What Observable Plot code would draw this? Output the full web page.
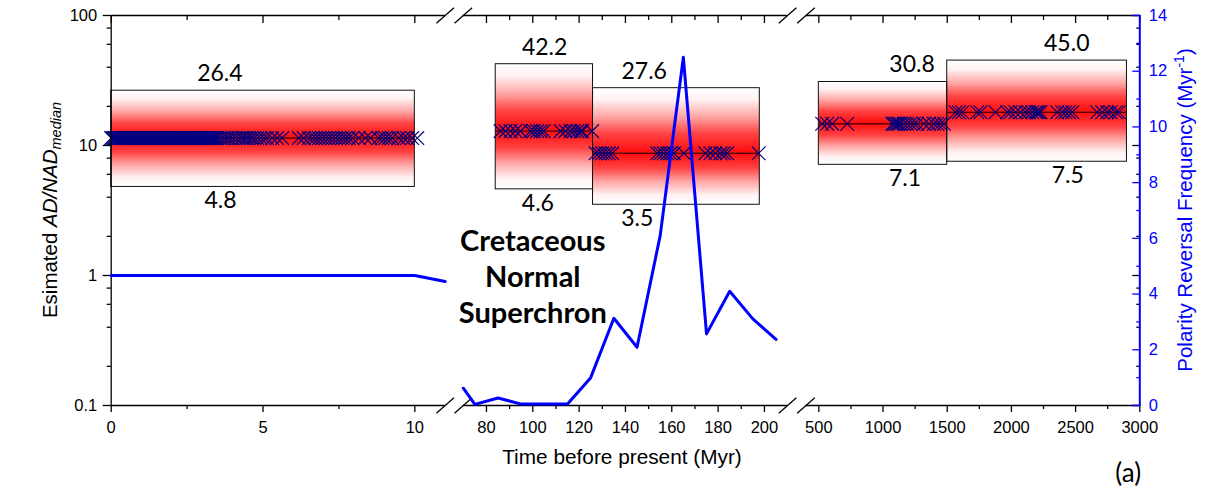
<!DOCTYPE html>
<html><head><meta charset="utf-8">
<script src="https://cdn.jsdelivr.net/npm/d3@7"></script>
<script src="https://cdn.jsdelivr.net/npm/@observablehq/plot@0.6"></script>
<style>
html,body{margin:0;padding:0;background:#fff;}
#chart{position:relative;width:1207px;height:498px;}
#chart svg{position:absolute;left:0;top:0;}
</style></head><body><div id="chart"></div>
<script>
// ---------- data ----------
const segStart = [0, 70, 400];
const segEnd = [11, 210, 3000];
const xMajorTicks = [0, 5, 10, 80, 100, 120, 140, 160, 180, 200, 500, 1000, 1500, 2000, 2500, 3000];
const xMinorTicks = [2.5, 7.5, 90, 110, 130, 150, 170, 190, 750, 1250, 1750, 2250, 2750];
const yMajorTicks = [0.1, 1, 10, 100];
const yMinorTicks = [0.2, 0.4, 0.6, 0.8, 2, 4, 6, 8, 20, 40, 60, 80];
const rightMajorTicks = [0, 2, 4, 6, 8, 10, 12, 14];
const rightMinorTicks = [1, 3, 5, 7, 9, 11, 13];

const boxStart = [0, 84, 126, 500, 1500];
const boxEnd = [10, 126, 198, 1500, 2900];
const boxLower = [4.8, 4.6, 3.5, 7.1, 7.5];
const boxUpper = [26.4, 42.2, 27.6, 30.8, 45.0];
const boxMedian = [11.4, 12.9, 8.7, 14.7, 18.0];
const labelTopX = [3.58, 105.1, 148.1, 1226, 2431];
const labelBottomX = [3.6, 102.2, 145.1, 1171, 2439];

const crosses1 = [0, 0.04, 0.08, 0.12, 0.16, 0.2, 0.24, 0.28, 0.32, 0.36, 0.4, 0.44, 0.48, 0.52, 0.56, 0.6, 0.64, 0.68, 0.72, 0.76, 0.8, 0.84, 0.88, 0.92, 0.96, 1.0, 1.04, 1.08, 1.12, 1.16, 1.2, 1.24, 1.28, 1.32, 1.36, 1.4, 1.44, 1.48, 1.52, 1.56, 1.6, 1.64, 1.68, 1.72, 1.76, 1.8, 1.84, 1.88, 1.92, 1.96, 2.0, 2.04, 2.08, 2.12, 2.16, 2.2, 2.24, 2.28, 2.32, 2.36, 2.4, 2.44, 2.48, 2.52, 2.56, 2.6, 2.64, 2.68, 2.72, 2.76, 2.8, 2.84, 2.88, 2.92, 2.96, 3.0, 3.04, 3.08, 3.12, 3.16, 3.2, 3.24, 3.28, 3.32, 3.36, 3.4, 3.44, 3.48, 3.56, 3.65, 3.74, 3.82, 3.9, 4.0, 4.1, 4.2, 4.3, 4.37, 4.45, 4.53, 4.62, 4.7, 4.81, 4.92, 5.03, 5.13, 5.3, 5.46, 5.63, 6.18, 6.34, 6.51, 6.62, 6.73, 6.84, 6.95, 7.06, 7.17, 7.28, 7.39, 7.5, 7.61, 7.71, 7.82, 7.94, 8.15, 8.37, 8.54, 8.81, 8.92, 9.03, 9.14, 9.25, 9.47, 9.63, 9.75, 9.91, 10.08];
const crosses2 = [86.1, 88.2, 90.4, 92.5, 94.7, 99.0, 100.4, 101.9, 103.3, 104.7, 112.0, 114.1, 116.3, 117.7, 119.2, 120.6, 121.3, 125.6];
const crosses3 = [127.1, 128.5, 130.0, 131.4, 132.8, 134.3, 153.7, 155.1, 156.5, 158.0, 159.4, 160.9, 165.2, 174.5, 176.7, 178.8, 181.0, 182.4, 183.9, 197.5];
const crosses4 = [526, 565, 604, 721, 1072, 1084, 1097, 1111, 1123, 1136, 1162, 1188, 1214, 1240, 1266, 1318, 1357, 1396, 1422, 1448, 1474];
const crosses5 = [1565, 1590, 1617, 1734, 1759, 1876, 1967, 1993, 2032, 2071, 2110, 2136, 2162, 2188, 2201, 2214, 2227, 2357, 2396, 2421, 2447, 2474, 2668, 2707, 2746, 2772, 2813, 2836];

const rateTime = [0, 10, 11, 70, 75, 85, 95, 105, 115, 125, 135, 145, 155, 165, 175, 185, 195, 205];
const rateValue = [4.67, 4.67, 4.45, 0.62, 0.04, 0.27, 0.05, 0.05, 0.05, 1.0, 3.13, 2.09, 6.1, 12.5, 2.57, 4.1, 3.11, 2.37];

const cnsLabel = {text: "Cretaceous\nNormal\nSuperchron", x: 100, y: 1};

// ---------- tables built from arrays ----------
const boxes = boxStart.map((s, i) => ({start: s, end: boxEnd[i], lower: boxLower[i], upper: boxUpper[i], median: boxMedian[i], topX: labelTopX[i], botX: labelBottomX[i]}));
const crossSets = [crosses1, crosses2, crosses3, crosses4, crosses5];
const crosses = crossSets.flatMap((arr, i) => arr.map(t => ({t, m: boxMedian[i]})));
const rate = rateTime.map((t, i) => ({t, v: rateValue[i]}));

// ---------- layout ----------
const W = 1207, H = 498;
const mT = 15, mB = 93;
const segPx = [[110.7, 444.7], [462.8, 787.1], [805.5, 1139.3]];
const axisFont = "Liberation Sans, Arial, sans-serif";
const labelFont = "Lato, Open Sans, sans-serif";
const tickFS = 16.5;
const BLUE = "#0000ff";
const yBottom = 0.1, yTop = 100;
const nSeg = segStart.length;

const slash = {draw(ctx) { ctx.moveTo(-8.8, 7.7); ctx.lineTo(8.8, -7.7); }};

function gradientDefs() {
  const defs = d3.create("svg:defs");
  const stops = [[0, "#ffffff"], [0.18, "#fff2f2"], [0.45, "#ffa4a4"], [0.7, "#ff4444"], [1, "#ff0a0a"]];
  const up = defs.append("linearGradient").attr("id", "gradUp").attr("x1", 0).attr("y1", 0).attr("x2", 0).attr("y2", 1);
  stops.forEach(([o, c]) => up.append("stop").attr("offset", o).attr("stop-color", c));
  const down = defs.append("linearGradient").attr("id", "gradDown").attr("x1", 0).attr("y1", 1).attr("x2", 0).attr("y2", 0);
  stops.forEach(([o, c]) => down.append("stop").attr("offset", o).attr("stop-color", c));
  return defs.node();
}

function frameOpts(i) {
  return {
    width: W, height: H,
    marginLeft: segPx[i][0], marginRight: W - segPx[i][1], marginTop: mT, marginBottom: mB,
    x: {domain: [segStart[i], segEnd[i]]},
    style: {fontFamily: axisFont, fontSize: tickFS + "px", background: "transparent", color: "black", overflow: "visible", pointerEvents: "none"}
  };
}

function inSeg(i) { return v => v >= segStart[i] && v <= segEnd[i]; }

function logPlot(i) {
  const within = inSeg(i);
  const bx = boxes.filter(b => within(b.start) && within(b.end));
  const cr = crosses.filter(c => within(c.t));
  const majors = xMajorTicks.filter(within);
  const minors = xMinorTicks.filter(within);
  const brk = [];
  if (i > 0) brk.push(segStart[i]);
  if (i < nSeg - 1) brk.push(segEnd[i]);
  const brkMarks = brk.flatMap(b => [{x: b, y: yBottom}, {x: b, y: yTop}]);
  const cns = [cnsLabel].filter(d => within(d.x));
  const marks = [
    i === 0 ? gradientDefs : null,
    Plot.rect(bx, {x1: "start", x2: "end", y1: "median", y2: "upper", fill: "url(#gradUp)"}),
    Plot.rect(bx, {x1: "start", x2: "end", y1: "lower", y2: "median", fill: "url(#gradDown)"}),
    Plot.ruleY(bx, {y: "median", x1: "start", x2: "end", stroke: "#5a0000", strokeWidth: 1.5}),
    Plot.rect(bx, {x1: "start", x2: "end", y1: "lower", y2: "upper", fill: "none", stroke: "#111", strokeWidth: 1}),
    Plot.dot(cr, {x: "t", y: "m", symbol: "times", r: 6.3, stroke: "#000080", strokeWidth: 1.1}),
    Plot.text(bx, {x: "topX", y: "upper", text: d => d.upper.toFixed(1), dy: -17, fontSize: 23, fontFamily: labelFont, fill: "black"}),
    Plot.text(bx, {x: "botX", y: "lower", text: d => d.lower.toFixed(1), dy: 14, fontSize: 23, fontFamily: labelFont, fill: "black"}),
    Plot.text(cns, {x: "x", y: "y", text: "text", fontSize: 29, fontWeight: "bold", fontFamily: labelFont, lineHeight: 1.24, fill: "black"}),
    Plot.ruleY([yBottom, yTop], {stroke: "black", strokeWidth: 1.3}),
    Plot.dot(brkMarks, {x: "x", y: "y", symbol: slash, fill: "none", stroke: "black", strokeWidth: 1.3}),
    Plot.axisX(majors, {anchor: "bottom", tickSize: 7, fill: "none", strokeWidth: 1.3}),
    Plot.axisX(minors, {anchor: "bottom", tickSize: 4, fill: "none", strokeWidth: 1.3}),
    Plot.axisX(majors, {anchor: "top", tickSize: 7, dy: 7, fill: "none", strokeWidth: 1.3}),
    Plot.axisX(minors, {anchor: "top", tickSize: 4, dy: 4, fill: "none", strokeWidth: 1.3}),
    Plot.axisX(majors, {anchor: "bottom", tickSize: 0, tickPadding: 16, tickFormat: d => String(d), label: null, fontSize: tickFS, fontFamily: axisFont})
  ];
  if (i === 0) {
    marks.push(
      Plot.ruleX([segStart[0]], {y1: yBottom, y2: yTop, stroke: "black", strokeWidth: 1.3}),
      Plot.axisY(yMajorTicks, {anchor: "left", tickSize: 8, fill: "none", strokeWidth: 1.3}),
      Plot.axisY(yMinorTicks, {anchor: "left", tickSize: 4, fill: "none", strokeWidth: 1.3}),
      Plot.axisY(yMajorTicks, {anchor: "left", tickSize: 0, tickPadding: 14, tickFormat: d => String(d), label: null, fontSize: tickFS, fontFamily: axisFont})
    );
  }
  if (i === nSeg - 1) {
    marks.push(
      Plot.axisY(yMajorTicks, {anchor: "right", tickSize: 8, dx: -8, fill: "none", strokeWidth: 1.3}),
      Plot.axisY(yMinorTicks, {anchor: "right", tickSize: 4, dx: -4, fill: "none", strokeWidth: 1.3})
    );
  } else {
    marks.push(Plot.axisY([], {anchor: "left", label: null}));
  }
  return Plot.plot({...frameOpts(i), y: {type: "log", domain: [yBottom, yTop]}, marks});
}

function axisTitles() {
  const g = d3.create("svg:g").attr("font-family", axisFont);
  const cy = (mT + H - mB) / 2;
  const lt = g.append("text").attr("transform", `translate(${segPx[0][0] - 54},${cy}) rotate(-90)`)
    .attr("text-anchor", "middle").attr("fill", "black").attr("font-size", 20.5);
  lt.append("tspan").text("Esimated ");
  lt.append("tspan").attr("font-style", "italic").text("AD/NAD");
  lt.append("tspan").attr("font-style", "italic").attr("font-size", 14.5).attr("dy", 4).text("median");
  const rt = g.append("text").attr("transform", `translate(${segPx[nSeg - 1][1] + 53},${cy}) rotate(-90)`)
    .attr("text-anchor", "middle").attr("fill", BLUE).attr("font-size", 20.5);
  rt.append("tspan").text("Polarity Reversal Frequency (Myr");
  rt.append("tspan").attr("font-size", 14).attr("dy", -8).text("-1");
  rt.append("tspan").attr("dy", 8).text(")");
  g.append("text").attr("x", (segPx[0][0] + segPx[nSeg - 1][1]) / 2 - 3).attr("y", H - mB + 52)
    .attr("dy", "0.35em").attr("text-anchor", "middle").attr("font-size", 20.8).attr("fill", "black")
    .text("Time before present (Myr)");
  g.append("text").attr("x", segPx[nSeg - 1][1] - 11).attr("y", H - mB + 68)
    .attr("dy", "0.35em").attr("text-anchor", "middle").attr("font-size", 26).attr("font-family", labelFont).attr("fill", "black")
    .text("(a)");
  return g.node();
}

function ratePlot(i) {
  const within = inSeg(i);
  const r = rate.filter(d => within(d.t));
  const marks = [
    Plot.line(r, {x: "t", y: "v", stroke: BLUE, strokeWidth: 3}),
    Plot.axisX([], {label: null})
  ];
  if (i === nSeg - 1) {
    marks.push(
      Plot.ruleX([segEnd[i]], {stroke: BLUE, strokeWidth: 2}),
      Plot.axisY(rightMajorTicks, {anchor: "right", tickSize: 8, dx: -8, fill: "none", stroke: BLUE, strokeWidth: 1.3}),
      Plot.axisY(rightMinorTicks, {anchor: "right", tickSize: 4, dx: -4, fill: "none", stroke: BLUE, strokeWidth: 1.3}),
      Plot.axisY(rightMajorTicks, {anchor: "right", tickSize: 0, tickPadding: 9, fill: BLUE, label: null, fontSize: tickFS, fontFamily: axisFont}),
      axisTitles
    );
  } else {
    marks.push(Plot.axisY([], {anchor: "left", label: null}));
  }
  return Plot.plot({...frameOpts(i), y: {type: "linear", domain: [0, 14]}, marks});
}

const chart = document.getElementById("chart");
for (let i = 0; i < nSeg; i++) chart.appendChild(logPlot(i));
for (let i = 0; i < nSeg; i++) chart.appendChild(ratePlot(i));
</script></body></html>
